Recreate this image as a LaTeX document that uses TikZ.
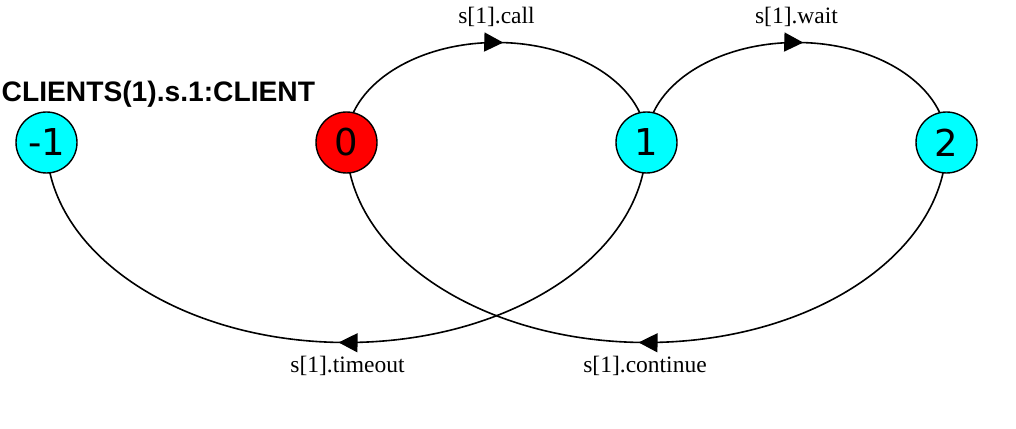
\documentclass[tikz,border=0pt]{standalone}
\usepackage{fontspec}
\setmainfont{Liberation Serif}
\newfontfamily\titlefont{Liberation Sans}
\newfontfamily\statefont{DejaVu Sans}
\usetikzlibrary{arrows.meta,decorations.markings,backgrounds}
\definecolor{statecyan}{HTML}{00FFFF}
\definecolor{statered}{HTML}{FF0000}
\tikzset{
  state/.style={circle, draw=black, line width=1.4pt, minimum size=61pt, inner sep=0pt,
    font=\statefont\fontsize{37}{42}\selectfont},
  edge/.style={draw=black, line width=1.6pt},
  tipmark/.style={postaction={decorate}, decoration={markings,
    mark=at position #1 with {\arrow{Triangle[length=19pt,width=19pt]}}}},
  lbl/.style={anchor=base, inner sep=0pt, font=\fontsize{23.5}{27}\selectfont},
}
\begin{document}
\begin{tikzpicture}[x=1pt,y=1pt]
\useasboundingbox (0,0) rectangle (1016,428);
\node[state, fill=statecyan] (sm1) at (46.5,285.5) {-1};
\node[state, fill=statered] (s0) at (346.5,285.5) {0};
\node[state, fill=statecyan] (s1) at (646.5,285.5) {1};
\node[state, fill=statecyan] (s2) at (946.5,285.5) {2};
\node[anchor=base west, inner sep=0pt, font=\titlefont\bfseries\fontsize{28.2}{33}\selectfont] (title) at (1.5,326.3) {CLIENTS(1).s.1:CLIENT};
\begin{pgfonlayer}{background}
\draw[edge, tipmark=0.517] (s0.center) arc[start angle=180, end angle=0, x radius=150pt, y radius=100pt];
\draw[edge, tipmark=0.517] (s1.center) arc[start angle=180, end angle=0, x radius=150pt, y radius=100pt];
\draw[edge, tipmark=0.510] (s1.center) arc[start angle=0, end angle=-180, x radius=300pt, y radius=200pt];
\draw[edge, tipmark=0.510] (s2.center) arc[start angle=0, end angle=-180, x radius=300pt, y radius=200pt];
\end{pgfonlayer}
\node[lbl] (lcall) at (496.5,404) {s[1].call};
\node[lbl] (lwait) at (796.5,404) {s[1].wait};
\node[lbl] (ltimeout) at (347.5,56) {s[1].timeout};
\node[lbl] (lcontinue) at (645,56) {s[1].continue};
\end{tikzpicture}
\end{document}
